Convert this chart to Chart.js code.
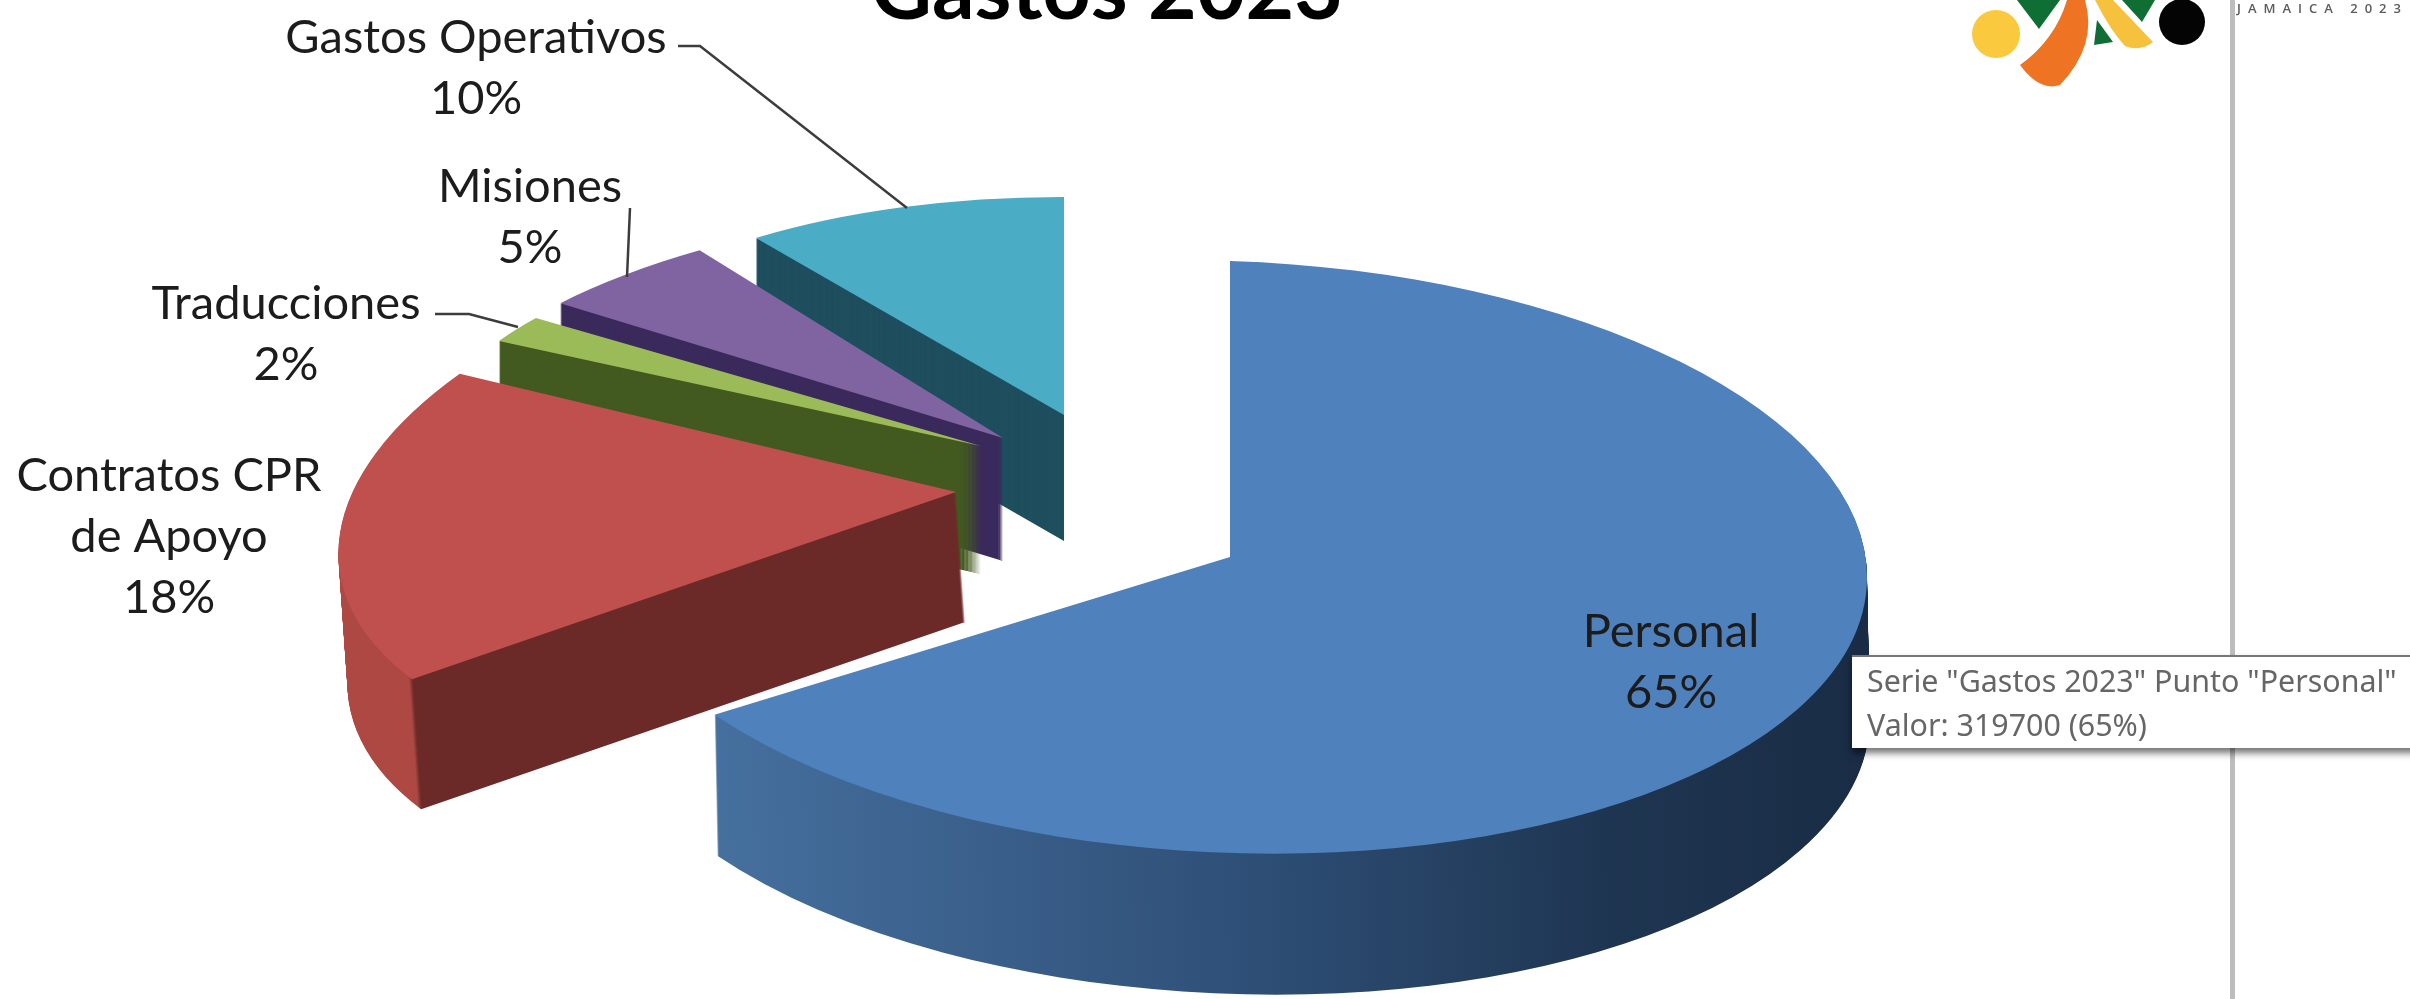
<!DOCTYPE html>
<html>
<head>
<meta charset="utf-8">
<title>Gastos 2023</title>
<script src="https://cdn.jsdelivr.net/npm/chart.js@4"></script>
<style>
  html, body { margin: 0; padding: 0; background: #fff; }
  #wrap { position: relative; width: 2410px; height: 999px; overflow: hidden; }
  canvas { position: absolute; left: 0; top: 0; }
  #vline { position: absolute; left: 2230px; top: 0; width: 5px; height: 999px; background: #bdbdbd; }
  #logo { position: absolute; left: 0; top: 0; }
  #logoText { position: absolute; left: 2237px; top: -1px; font: 600 13px "Open Sans", sans-serif; letter-spacing: 7px; color: #5c5c5c; white-space: nowrap; }
  #tip { position: absolute; left: 1852px; top: 655px; width: 570px; height: 93px; background: #fff; border-top: 2px solid #777;
         box-shadow: 0 5px 7px rgba(0,0,0,.55); font: 30.4px/44px "Noto Sans", sans-serif; color: #666; box-sizing: border-box; padding: 2px 0 0 15px; white-space: nowrap; }
</style>
</head>
<body>
<div id="wrap">
  <div id="vline"></div>
  <canvas id="pie" width="2410" height="999"></canvas>
  <svg id="logo" width="2410" height="100">
    <circle cx="1996" cy="34" r="24" fill="#fbc93d"/>
    <circle cx="2182" cy="22" r="23" fill="#040404"/>
    <path d="M2017 0H2060L2039 29Z" fill="#0f6e34"/>
    <path d="M2122 0H2155L2142 22Z" fill="#0f6e34"/>
    <path d="M2097 20L2113 42L2094 45Z" fill="#0f6e34"/>
    <path d="M2095 0H2113L2153 42Q2140 52 2125 46Q2110 30 2095 0Z" fill="#f6c23e"/>
    <path d="M2067 0H2085Q2098 45 2060 85Q2040 92 2020 65Q2055 40 2067 0Z" fill="#ee7423"/>
  </svg>
  <div id="logoText">JAMAICA 2023</div>
  <div id="tip"></div>
</div>
<script>
const serie = 'Gastos 2023';
const categories = ['Personal', 'Contratos CPR de Apoyo', 'Traducciones', 'Misiones', 'Gastos Operativos'];
const values = [319700, 88500, 9800, 24600, 49200];
const labelLines = [['Personal'], ['Contratos CPR', 'de Apoyo'], ['Traducciones'], ['Misiones'], ['Gastos Operativos']];

const topColors = ['#4f81bd', '#c0504d', '#9bbb59', '#8064a2', '#4bacc6'];
const centre = [1094, 489];
// per slice: explode shift, projection of the unit circle, wall depth
const sliceShift = [[136, 68], [-138, 3], [-113, -43], [-91, -51], [-30, -74]];
const sliceShape = [
  [637, 0, 20, 296],
  [612, -83, -23, 287],
  [550, 0, 0, 218],
  [582, -48, -4, 235],
  [524, 0, 1, 218]
];
const wallDepth = [141, 130, 128, 123, 126];
const wallLean = [0.02, 0.07, 0, 0, 0];
const labelPos = [[1671, 632], [169, 476], [286, 304], [530, 187], [476, 38]];
const leaders = [
  [[678, 46], [700, 46], [907, 208]],
  [[630, 208], [627, 277]],
  [[435, 314], [469, 314], [518, 327]]
];

const total = values.reduce((a, b) => a + b, 0);
const percent = v => Math.round(v / total * 100) + '%';

function wallFill(ctx, arc, i) {
  const R = arc.outerRadius;
  const g = ctx.createLinearGradient(arc.x - R, 0, arc.x + R, 0);
  if (i === 0) {
    g.addColorStop(0.09, '#46709f');
    g.addColorStop(0.5, '#2f5078');
    g.addColorStop(0.8, '#1e3551');
    g.addColorStop(1, '#1a2c45');
    return g;
  }
  if (i === 1) {
    g.addColorStop(0, '#ad4843');
    g.addColorStop(0.092, '#ad4843');
    g.addColorStop(0.096, '#6b2a27');
    g.addColorStop(1, '#6b2a27');
    return g;
  }
  return ['', '', '#435a20', '#3b2a5c', '#1f4f5e'][i];
}

function drawSlice(ctx, arc, i, dy, dx, fill) {
  const R = arc.outerRadius;
  const m = sliceShape[i];
  const base = arc.options;
  ctx.save();
  ctx.translate(centre[0] + sliceShift[i][0] + dx, centre[1] + sliceShift[i][1] + dy);
  ctx.transform(m[0] / R, m[2] / R, m[1] / R, m[3] / R, 0, 0);
  ctx.translate(-arc.x, -arc.y);
  arc.options = Object.assign({}, base, { backgroundColor: fill, borderWidth: 0 });
  arc.draw(ctx);
  arc.options = base;
  ctx.restore();
}

const pie3d = {
  id: 'pie3d',
  beforeDatasetDraw(chart, args) {
    const ctx = chart.ctx;
    const arcs = args.meta.data;
    // back to front so the big slice ends up on top
    for (let i = arcs.length - 1; i >= 0; i--) {
      const wall = wallFill(ctx, arcs[i], i);
      for (let d = wallDepth[i]; d > 0; d--) {
        drawSlice(ctx, arcs[i], i, d, d * wallLean[i], wall);
      }
      drawSlice(ctx, arcs[i], i, 0, 0, topColors[i]);
    }
    return false;
  },
  afterDraw(chart) {
    const ctx = chart.ctx;
    ctx.save();
    ctx.fillStyle = '#000';
    ctx.textAlign = 'center';
    ctx.textBaseline = 'middle';
    ctx.font = 'bold 84px Lato, sans-serif';
    ctx.fillText(serie, 1107, -8);

    ctx.font = '47px Lato, sans-serif';
    ctx.fillStyle = '#1c1c1c';
    labelLines.forEach((lines, i) => {
      const rows = lines.concat(percent(values[i]));
      rows.forEach((t, r) => ctx.fillText(t, labelPos[i][0], labelPos[i][1] + r * 61));
    });

    ctx.strokeStyle = '#3c3c3c';
    ctx.lineWidth = 2.5;
    leaders.forEach(pts => {
      ctx.beginPath();
      pts.forEach((p, k) => k ? ctx.lineTo(p[0], p[1]) : ctx.moveTo(p[0], p[1]));
      ctx.stroke();
    });
    ctx.restore();
  }
};

new Chart(document.getElementById('pie').getContext('2d'), {
  type: 'pie',
  data: { labels: categories, datasets: [{ label: serie, data: values, backgroundColor: topColors, borderWidth: 0 }] },
  options: {
    responsive: false,
    animation: false,
    plugins: { legend: { display: false }, tooltip: { enabled: false } }
  },
  plugins: [pie3d]
});

document.getElementById('tip').innerHTML =
  'Serie "' + serie + '" Punto "' + categories[0] + '"<br>Valor: ' + values[0] + ' (' + percent(values[0]) + ')';
</script>
</body>
</html>
